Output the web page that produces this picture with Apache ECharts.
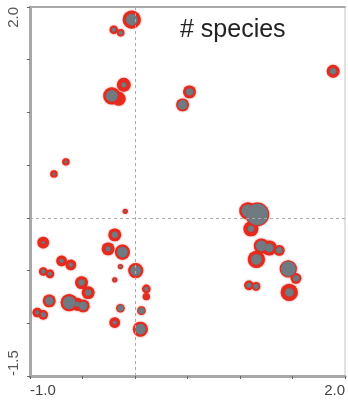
<!DOCTYPE html>
<html>
<head>
<meta charset="utf-8">
<script src="https://cdn.jsdelivr.net/npm/echarts@6/dist/echarts.min.js"></script>
<style>
html,body{margin:0;padding:0;background:#fff;}
#chart{width:348px;height:404px;}
</style>
</head>
<body>
<div id="chart"></div>
<script>
// ---- data ----
const xValues = [-0.031,-0.202,-0.136,-0.221,-0.155,-0.107,0.519,0.453,1.887,
  -0.658,-0.772,-0.093,-0.874,-0.193,-0.256,-0.120,-0.699,-0.611,-0.874,-0.810,
  -0.139,0.007,-0.193,-0.509,-0.446,0.108,0.108,-0.817,-0.627,-0.551,-0.494,
  -0.931,-0.874,-0.139,0.061,-0.193,0.051,
  1.075,1.165,1.104,1.203,1.279,1.374,1.156,1.460,1.533,1.085,1.153,1.469];
const yValues = [1.880,1.784,1.755,1.157,1.129,1.262,1.195,1.072,1.390,
  0.531,0.417,0.062,-0.234,-0.161,-0.294,-0.325,-0.408,-0.446,-0.509,-0.531,
  -0.462,-0.500,-0.588,-0.614,-0.709,-0.674,-0.747,-0.787,-0.804,-0.819,-0.835,
  -0.898,-0.920,-0.857,-0.880,-0.993,-1.056,
  0.066,0.033,-0.104,-0.266,-0.285,-0.308,-0.394,-0.484,-0.574,-0.640,-0.650,-0.707];
const speciesTotal = [72,16,12,64,42,42,36,36,36,
  12,12,6,30,36,36,49,25,25,16,16,
  6,49,6,36,36,16,12,36,64,36,36,
  20,20,16,16,25,49,
  64,121,49,49,49,25,64,64,25,20,16,64];
const speciesShared = [30,4,4,30,0,6,12,20,9,
  2,2,1,2,9,6,25,4,4,4,4,
  2,25,1,9,9,4,0,16,36,6,16,
  4,6,9,9,4,25,
  36,100,9,25,16,9,25,49,9,6,6,16];
const xTickLabels = ['-1.0','2.0'];
const yTickLabels = ['-1.5','2.0'];
const chartTitle = '# species';

// ---- build ----
const redData = xValues.map((x,i)=>[x,yValues[i],speciesTotal[i]]);
const grayData = xValues.map((x,i)=>[x,yValues[i],speciesShared[i]]);
const sizeFn = v => 2.15*Math.sqrt(v[2]);

const chart = echarts.init(document.getElementById('chart'), null, {renderer:'canvas'});
const labelFont = 'Liberation Sans, Arial, sans-serif';
chart.setOption({
  animation:false,
  backgroundColor:'#fff',
  title:{
    text:chartTitle, left:175, top:13,
    textStyle:{fontFamily:labelFont,fontSize:25,fontWeight:'normal',color:'#222'}
  },
  grid:{left:30,right:2,top:7,bottom:28,show:true,borderColor:'#c4c4c4',borderWidth:1},
  xAxis:[{
    type:'value',min:-1.0,max:2.0,interval:0.5,position:'bottom',
    axisLine:{show:true,onZero:false,lineStyle:{color:'#a8a8a8',width:3}},
    axisTick:{show:true,length:3,lineStyle:{color:'#666',width:1}},
    splitLine:{show:false},
    axisLabel:{
      margin:7,fontFamily:labelFont,fontSize:15,color:'#444',
      alignMinLabel:'left',alignMaxLabel:'right',
      formatter:v=>{ if(Math.abs(v+1.0)<1e-9) return xTickLabels[0]; if(Math.abs(v-2.0)<1e-9) return xTickLabels[1]; return ''; }
    }
  },{
    type:'value',min:-1.0,max:2.0,position:'top',
    axisLine:{show:true,onZero:false,lineStyle:{color:'#a8a8a8',width:2}},
    axisTick:{show:false},axisLabel:{show:false},splitLine:{show:false}
  }],
  yAxis:{
    type:'value',min:-1.5,max:2.0,interval:0.5,
    axisLine:{show:true,onZero:false,lineStyle:{color:'#a8a8a8',width:3}},
    axisTick:{show:true,length:3,lineStyle:{color:'#666',width:1}},
    splitLine:{show:false},
    axisLabel:{
      margin:9,rotate:90,fontFamily:labelFont,fontSize:15,color:'#555',
      alignMinLabel:'left',alignMaxLabel:'right',
      formatter:v=>{ if(Math.abs(v+1.5)<1e-9) return yTickLabels[0]; if(Math.abs(v-2.0)<1e-9) return yTickLabels[1]; return ''; }
    }
  },
  series:[
    {
      type:'scatter',name:'total',data:redData,symbolSize:sizeFn,
      itemStyle:{color:'#e52a1e',opacity:1,shadowBlur:2,shadowColor:'rgba(220,40,30,0.7)'},
      markLine:{
        silent:true,symbol:'none',label:{show:false},
        lineStyle:{color:'#aaaaaa',type:[3,3],width:1},
        data:[{xAxis:0},{yAxis:0}]
      },
      z:2
    },
    {
      type:'scatter',name:'shared',data:grayData,symbolSize:sizeFn,
      itemStyle:{color:'#6f7b80',opacity:1,borderColor:'rgba(150,80,80,0.5)',borderWidth:0.5},
      z:3
    }
  ]
});
</script>
</body>
</html>
